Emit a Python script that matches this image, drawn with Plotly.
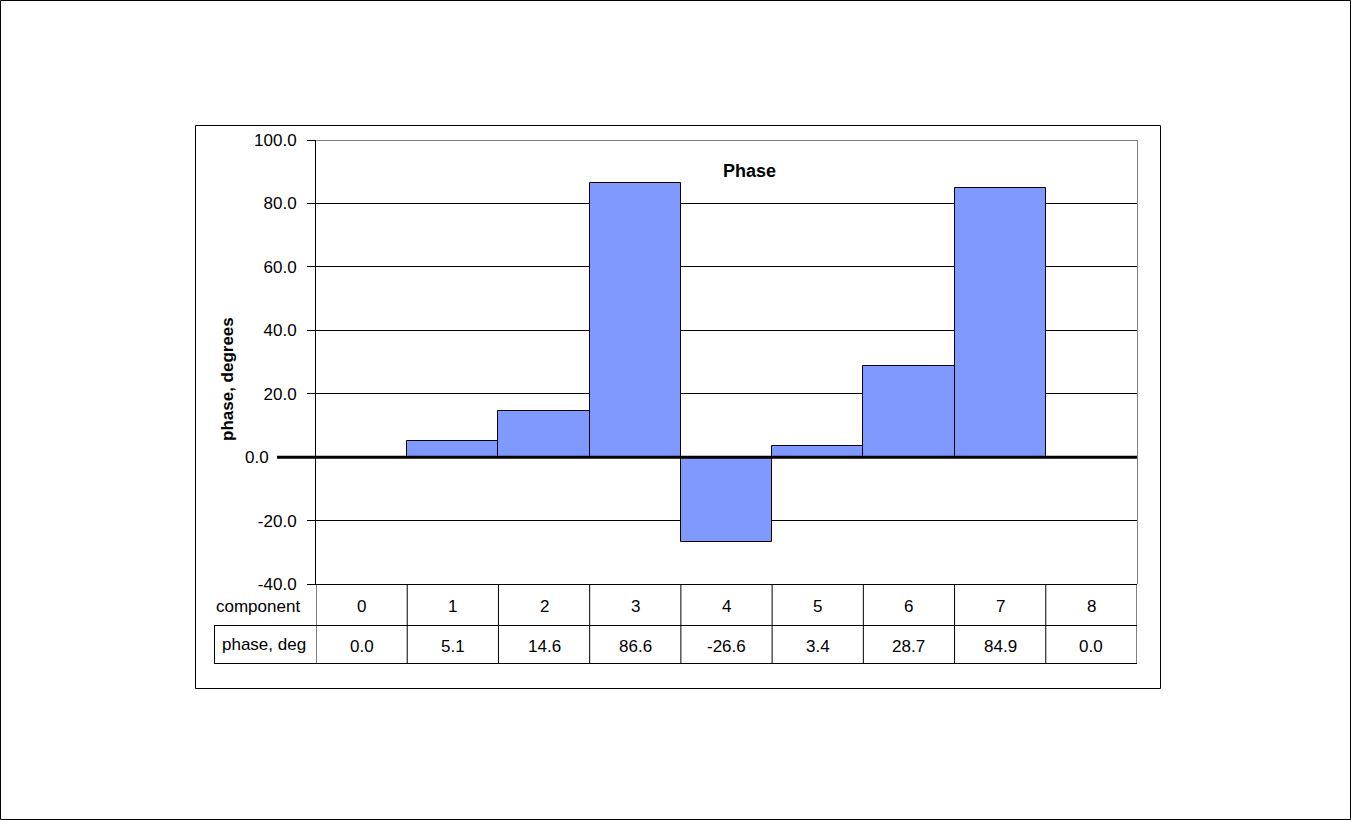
import plotly.graph_objects as go

components = [0, 1, 2, 3, 4, 5, 6, 7, 8]
phase_deg = [0.0, 5.1, 14.6, 86.6, -26.6, 3.4, 28.7, 84.9, 0.0]
y_ticks = [-40, -20, 0, 20, 40, 60, 80, 100]

W, H = 1351, 820
FONT = "Liberation Sans, Arial, sans-serif"
BAR_COLOR = "#8099FF"


def px(x):
    return x / W


def py(y):
    return 1 - y / H


fig = go.Figure()

fig.add_trace(go.Bar(
    x=components,
    y=phase_deg,
    marker=dict(color=BAR_COLOR, line=dict(color="black", width=1)),
    hoverinfo="x+y",
))

# plot area edges (pixels)
L, R, T, B = 316, 1137, 140, 584
ROW1, ROW2 = 625, 663

shapes = []
# outer frame and chart frame (half-pixel offsets keep 1px lines crisp)
shapes.append(dict(type="rect", xref="paper", yref="paper",
                   x0=px(0.5), x1=px(W - 0.5), y0=py(H - 0.5), y1=py(0.5),
                   line=dict(color="black", width=1)))
shapes.append(dict(type="rect", xref="paper", yref="paper",
                   x0=px(195.5), x1=px(1160.5), y0=py(688.5), y1=py(125.5),
                   line=dict(color="black", width=1)))
# grey top / right plot border
shapes.append(dict(type="line", xref="paper", yref="paper",
                   x0=px(L), x1=px(R), y0=py(T + 0.5), y1=py(T + 0.5),
                   line=dict(color="#808080", width=1), layer="above"))
shapes.append(dict(type="line", xref="paper", yref="paper",
                   x0=px(R + 0.5), x1=px(R + 0.5), y0=py(T), y1=py(B),
                   line=dict(color="#808080", width=1), layer="above"))
# heavy zero line drawn over the bars, reaching left of the axis
shapes.append(dict(type="line", xref="paper", yref="y",
                   x0=px(277), x1=px(R), y0=0, y1=0,
                   line=dict(color="black", width=3), layer="above"))
# data table grid
for k in range(len(components) + 1):
    xb = k - 0.5
    shapes.append(dict(type="line", xref="x", yref="paper",
                       x0=xb, x1=xb, y0=py(ROW2), y1=py(B),
                       line=dict(color="black", width=1)))
for yy in (ROW1, ROW2):
    shapes.append(dict(type="line", xref="paper", yref="paper",
                       x0=px(214), x1=px(R), y0=py(yy + 0.5), y1=py(yy + 0.5),
                       line=dict(color="black", width=1)))
shapes.append(dict(type="line", xref="paper", yref="paper",
                   x0=px(214.5), x1=px(214.5), y0=py(ROW2), y1=py(ROW1),
                   line=dict(color="black", width=1)))

annotations = []
tfont = dict(family=FONT, size=17, color="black")


def note(x, y, text, xref="paper", yref="paper", **kw):
    d = dict(x=x, y=y, xref=xref, yref=yref, text=text, showarrow=False,
             xanchor="center", yanchor="middle", font=tfont)
    d.update(kw)
    annotations.append(d)


for c, v in zip(components, phase_deg):
    note(c, py(606), str(c), xref="x")
    note(c, py(646), f"{v:.1f}", xref="x")
note(px(258), py(606), "component")
note(px(264), py(644), "phase, deg")
note(px(227), py(379), "<b>phase, degrees</b>", textangle=-90)
note(px(749), py(171), "<b>Phase</b>",
     font=dict(family=FONT, size=18, color="black"))
# the 0.0 label sits left of the extended zero line
note(px(271), 0, f"{0:.1f}", yref="y", xanchor="right")

tick_text = ["" if t == 0 else f"{t:.1f}" for t in y_ticks]

fig.update_layout(
    width=W,
    height=H,
    margin=dict(l=0, r=0, t=0, b=0, pad=0),
    paper_bgcolor="white",
    plot_bgcolor="white",
    showlegend=False,
    bargap=0,
    font=dict(family=FONT, size=17, color="black"),
    xaxis=dict(
        domain=[px(L), px(R)],
        range=[-0.5, 8.5],
        showticklabels=False,
        showgrid=False,
        zeroline=False,
        showline=True,
        linecolor="black",
        linewidth=1,
        ticks="",
        automargin=False,
    ),
    yaxis=dict(
        domain=[py(B), py(T)],
        range=[-40, 100],
        tickvals=y_ticks,
        ticktext=tick_text,
        ticks="outside",
        ticklen=8,
        tickcolor="black",
        ticklabelstandoff=7,
        showgrid=True,
        gridcolor="black",
        gridwidth=1,
        zeroline=False,
        showline=True,
        linecolor="black",
        linewidth=1,
        automargin=False,
        tickfont=dict(family=FONT, size=17, color="black"),
    ),
    shapes=shapes,
    annotations=annotations,
)

fig.write_html(
    "out.html",
    config=dict(displayModeBar=False),
    post_script="document.body.style.margin='0';document.body.style.overflow='hidden';",
)
